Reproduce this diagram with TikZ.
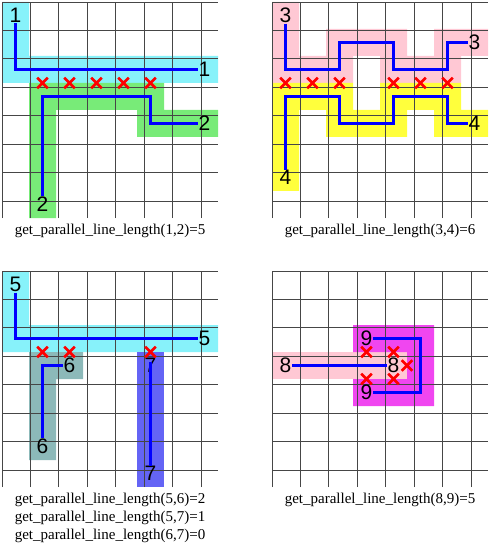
\documentclass[tikz,border=0pt]{standalone}
\usepackage{fontspec}
\setmainfont{Liberation Serif}
\newfontfamily\labfont{Liberation Sans}
\usetikzlibrary{shapes.misc}
\definecolor{cyanf}{RGB}{135,242,250}
\definecolor{greenf}{RGB}{120,235,120}
\definecolor{pinkf}{RGB}{255,200,212}
\definecolor{yellowf}{RGB}{255,255,60}
\definecolor{tealf}{RGB}{140,185,185}
\definecolor{bluef}{RGB}{100,100,245}
\definecolor{magf}{RGB}{240,70,240}
\definecolor{gridc}{RGB}{70,70,70}
\tikzset{
  gridline/.style={draw=gridc, line width=0.9pt},
  lbl/.style={font=\labfont\fontsize{21}{21}\selectfont, inner sep=0.5pt},
  bline/.style={draw={rgb,255:red,0;green,0;blue,255}, line width=3pt},
  xm/.style={draw=red, cross out, line width=2.6pt, minimum size=8pt, inner sep=0pt},
  captext/.style={font=\fontsize{15}{18}\selectfont, inner sep=0pt, align=center},
  cellunit/.style={x=27pt, y=-27pt}
}
\begin{document}
\begin{tikzpicture}[x=1pt,y=-1pt]
\useasboundingbox (0,0) rectangle (489,545);
% ---------- grid 1 ----------
\begin{scope}[shift={(2,2)}, cellunit]
  \fill[cyanf] (0,0) rectangle (1,3) (0,2) rectangle (8,3);
  \fill[greenf] (1,3) rectangle (2,8) (1,3) rectangle (6,4) (5,3) rectangle (6,5) (5,4) rectangle (8,5);
  \draw[gridline] (0,0) grid (8,8);
  \node[lbl] (a1) at (0.5,0.5) {1};
  \node[lbl] (b1) at (7.5,2.5) {1};
  \node[lbl] (a2) at (1.5,7.5) {2};
  \node[lbl] (b2) at (7.5,4.5) {2};
  \draw[bline] (a1) |- (b1);
  \draw[bline] (a2) |- (5.5,3.5) |- (b2);
  \foreach \c in {1,...,5} \node[xm] (xa\c) at (\c+0.5,3) {};
\end{scope}
\node[captext] (c12) at (110,231) {get\_parallel\_line\_length(1,2)=5};
% ---------- grid 2 ----------
\begin{scope}[shift={(272,2)}, cellunit]
  \fill[pinkf] (0,0) rectangle (1,3) (0,2) rectangle (3,3) (2,1) rectangle (3,3)
    (2,1) rectangle (5,2) (4,1) rectangle (5,3) (4,2) rectangle (7,3)
    (6,1) rectangle (7,3) (6,1) rectangle (8,2);
  \fill[yellowf] (0,3) rectangle (1,7) (0,3) rectangle (3,4) (2,3) rectangle (3,5)
    (2,4) rectangle (5,5) (4,3) rectangle (5,5) (4,3) rectangle (7,4)
    (6,3) rectangle (7,5) (6,4) rectangle (8,5);
  \draw[gridline] (0,0) grid (8,8);
  \node[lbl] (a3) at (0.5,0.5) {3};
  \node[lbl] (b3) at (7.5,1.5) {3};
  \node[lbl] (a4) at (0.5,6.5) {4};
  \node[lbl] (b4) at (7.5,4.5) {4};
  \draw[bline] (a3) |- (2.5,2.5) |- (4.5,1.5) |- (6.5,2.5) |- (b3);
  \draw[bline] (a4) |- (2.5,3.5) |- (4.5,4.5) |- (6.5,3.5) |- (b4);
  \foreach \c in {0,1,2,4,5,6} \node[xm] (xb\c) at (\c+0.5,3) {};
\end{scope}
\node[captext] (c34) at (380,231) {get\_parallel\_line\_length(3,4)=6};
% ---------- grid 3 ----------
\begin{scope}[shift={(2,271)}, cellunit]
  \fill[cyanf] (0,0) rectangle (1,3) (0,2) rectangle (8,3);
  \fill[tealf] (1,3) rectangle (2,7) (1,3) rectangle (3,4);
  \fill[bluef] (5,3) rectangle (6,8);
  \draw[gridline] (0,0) grid (8,8);
  \node[lbl] (a5) at (0.5,0.5) {5};
  \node[lbl] (b5) at (7.5,2.5) {5};
  \node[lbl] (a6) at (2.5,3.5) {6};
  \node[lbl] (b6) at (1.5,6.5) {6};
  \node[lbl] (a7) at (5.5,3.5) {7};
  \node[lbl] (b7) at (5.5,7.5) {7};
  \draw[bline] (a5) |- (b5);
  \draw[bline] (a6) -| (b6);
  \draw[bline] ([yshift=4pt]a7.center) -- (b7);
  \foreach \c in {1,2,5} \node[xm] (xc\c) at (\c+0.5,3) {};
\end{scope}
\node[captext] (c56) at (110,500) {get\_parallel\_line\_length(5,6)=2};
\node[captext] (c57) at (110,518) {get\_parallel\_line\_length(5,7)=1};
\node[captext] (c67) at (110,536) {get\_parallel\_line\_length(6,7)=0};
% ---------- grid 4 ----------
\begin{scope}[shift={(272,271)}, cellunit]
  \fill[pinkf] (0,3) rectangle (5,4);
  \fill[magf] (3,2) rectangle (6,3) (5,2) rectangle (6,5) (3,4) rectangle (6,5);
  \draw[gridline] (0,0) grid (8,8);
  \node[lbl] (a8) at (0.5,3.5) {8};
  \node[lbl] (b8) at (4.5,3.5) {8};
  \node[lbl] (a9) at (3.5,2.5) {9};
  \node[lbl] (b9) at (3.5,4.5) {9};
  \draw[bline] (a8) -- (b8);
  \draw[bline] (a9) -| (5.5,4.5) -- (b9);
  \node[xm] (xd1) at (3.5,3) {};
  \node[xm] (xd2) at (4.5,3) {};
  \node[xm] (xd3) at (3.5,4) {};
  \node[xm] (xd4) at (4.5,4) {};
  \node[xm] (xd5) at (5,3.5) {};
\end{scope}
\node[captext] (c89) at (380,500) {get\_parallel\_line\_length(8,9)=5};
\end{tikzpicture}
\end{document}
